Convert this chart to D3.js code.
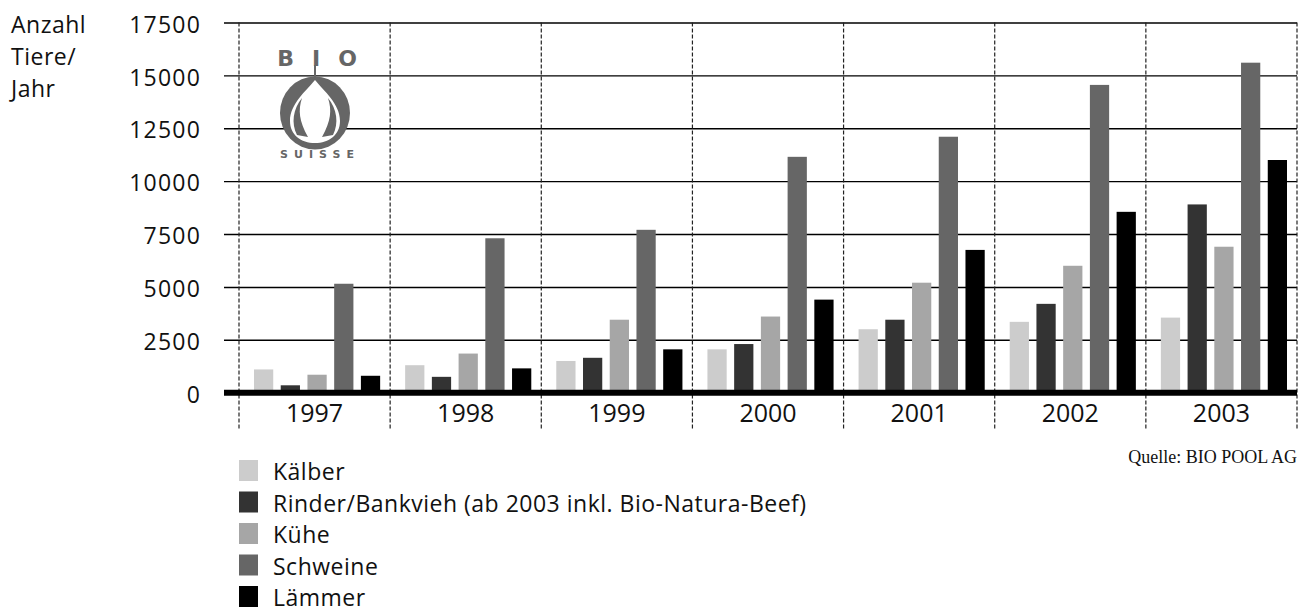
<!DOCTYPE html>
<html>
<head>
<meta charset="utf-8">
<script src="https://cdn.jsdelivr.net/npm/d3@7"></script>
<style>
  body { margin: 0; background: #fff; }
  svg { display: block; font-family: "Open Sans", sans-serif; }
</style>
</head>
<body>
<script>
// data
const years = ["1997", "1998", "1999", "2000", "2001", "2002", "2003"];
const series = ["Kälber", "Rinder/Bankvieh (ab 2003 inkl. Bio-Natura-Beef)", "Kühe", "Schweine", "Lämmer"];
const kaelber  = [1100, 1300, 1500, 2050, 3000, 3350, 3550];
const rinder   = [350, 750, 1650, 2300, 3450, 4200, 8900];
const kuehe    = [850, 1850, 3450, 3600, 5200, 6000, 6900];
const schweine = [5150, 7300, 7700, 11150, 12100, 14550, 15600];
const laemmer  = [800, 1150, 2050, 4400, 6750, 8550, 11000];
const yTicks = [0, 2500, 5000, 7500, 10000, 12500, 15000, 17500];
const colors = ["#cccccc", "#333333", "#a6a6a6", "#666666", "#000000"];

const values = [kaelber, rinder, kuehe, schweine, laemmer];
const width = 1300, height = 613;

const svg = d3.select('body').append('svg')
    .attr('width', width)
    .attr('height', height);

const x0 = d3.scaleBand()
    .domain(years)
    .range([239, 1297]);

const x1 = d3.scaleBand()
    .domain(d3.range(series.length))
    .range([15, x0.bandwidth() - 10])
    .paddingInner(0.28);

const y = d3.scaleLinear()
    .domain([0, 17500])
    .range([392.7, 22.5]);

// horizontal grid + tick labels
const yAxis = svg.append('g')
    .attr('transform', 'translate(1297,0)')
    .call(d3.axisLeft(y)
        .tickValues(yTicks)
        .tickSize(1297 - 224)
        .tickPadding(23)
        .tickFormat(d3.format('d')));
yAxis.select('.domain').remove();
yAxis.selectAll('line').attr('stroke', '#000').attr('stroke-width', 1.4);
yAxis.selectAll('text')
    .attr('fill', '#111')
    .attr('dy', '0.42em')
    .style('font-size', '23px')
    .style('letter-spacing', '1.2px')
    .style('font-family', '"Open Sans", sans-serif');

// dashed verticals between the years
const bounds = years.map(d => x0(d)).concat([x0.range()[1]]);
svg.append('g').selectAll('line')
    .data(bounds)
    .join('line')
    .attr('x1', d => d).attr('x2', d => d)
    .attr('y1', y(17500)).attr('y2', 430)
    .attr('stroke', '#222')
    .attr('stroke-width', 1.2)
    .attr('stroke-dasharray', '4,2');

// bars
const groups = svg.append('g').selectAll('g')
    .data(years)
    .join('g')
    .attr('transform', d => `translate(${x0(d)},0)`);

groups.selectAll('rect')
    .data((d, i) => values.map((s, k) => ({ k: k, v: s[i] })))
    .join('rect')
    .attr('x', d => x1(d.k))
    .attr('width', x1.bandwidth())
    .attr('y', d => y(d.v))
    .attr('height', d => y(0) - y(d.v))
    .attr('fill', d => colors[d.k]);

// thick baseline
svg.append('line')
    .attr('x1', 224).attr('x2', 1297)
    .attr('y1', y(0)).attr('y2', y(0))
    .attr('stroke', '#000')
    .attr('stroke-width', 6);

// year labels
const xAxis = svg.append('g')
    .attr('transform', `translate(0,${y(0)})`)
    .call(d3.axisBottom(x0).tickSize(0).tickPadding(12));
xAxis.select('.domain').remove();
xAxis.selectAll('text')
    .attr('fill', '#111')
    .style('font-size', '25px')
    .style('font-family', '"Open Sans", sans-serif');

// y axis title
svg.append('text')
    .attr('y', 33)
    .style('font-size', '23px')
    .style('letter-spacing', '0.5px')
    .attr('fill', '#111')
    .selectAll('tspan')
    .data(["Anzahl", "Tiere/", "Jahr"])
    .join('tspan')
    .attr('x', 11)
    .attr('dy', (d, i) => i ? 32 : 0)
    .text(d => d);

// source
svg.append('text')
    .attr('x', 1297)
    .attr('y', 463)
    .attr('text-anchor', 'end')
    .style('font-family', '"Liberation Serif", serif')
    .style('font-size', '18px')
    .attr('fill', '#111')
    .text('Quelle: BIO POOL AG');

// legend
const legend = svg.append('g').selectAll('g')
    .data(series)
    .join('g')
    .attr('transform', (d, i) => `translate(239,${460 + i * 31.5})`);
legend.append('rect')
    .attr('width', 19)
    .attr('height', 21)
    .attr('fill', (d, i) => colors[i]);
legend.append('text')
    .attr('x', 34)
    .attr('y', 20)
    .style('font-size', '23px')
    .style('letter-spacing', '0.5px')
    .attr('fill', '#111')
    .text(d => d);

// BIO SUISSE logo
const logo = svg.append('g')
    .attr('transform', 'translate(315,113)')
    .attr('fill', '#666');
logo.append('text')
    .attr('x', 11)
    .attr('y', -47)
    .attr('text-anchor', 'middle')
    .style('font-family', '"DejaVu Sans", sans-serif')
    .style('font-weight', 'bold')
    .style('font-size', '22px')
    .style('letter-spacing', '18px')
    .text('BIO');
logo.append('ellipse')
    .attr('rx', 35).attr('ry', 36.5);
logo.append('path')
    .attr('fill', '#fff')
    .attr('d', 'M0,-33 C9,-22 25,-9 25,8 C25,22 14,30 0,30 C-14,30 -25,22 -25,8 C-25,-9 -9,-22 0,-33 Z');
logo.append('path')
    .attr('d', 'M-18,22 C-24,10 -22,-4 -13,-15 C-17,-3 -16,8 -7,24 Z');
logo.append('path')
    .attr('d', 'M18,22 C24,10 22,-4 13,-15 C17,-3 16,8 7,24 Z');
logo.append('rect')
    .attr('x', -1).attr('y', -48).attr('width', 2).attr('height', 14);
logo.append('text')
    .attr('x', 5)
    .attr('y', 45)
    .attr('text-anchor', 'middle')
    .style('font-family', '"DejaVu Sans", sans-serif')
    .style('font-weight', 'bold')
    .style('font-size', '11px')
    .style('letter-spacing', '6px')
    .text('SUISSE');
</script>
</body>
</html>
